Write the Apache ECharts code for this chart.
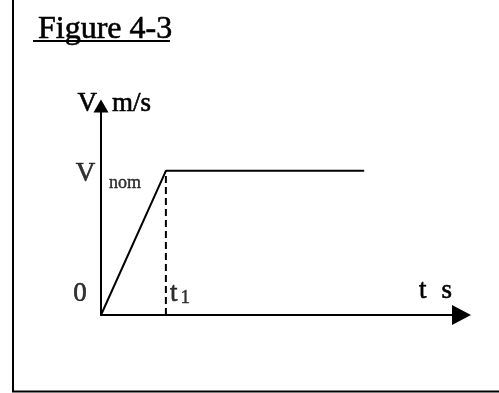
<!DOCTYPE html>
<html>
<head>
<meta charset="utf-8">
<script src="https://cdn.jsdelivr.net/npm/echarts@6/dist/echarts.min.js"></script>
<style>
  html, body { margin: 0; padding: 0; background: #fff; }
  #chart { width: 499px; height: 393px; }
</style>
</head>
<body>
<div id="chart"></div>
<script>
// speed profile: ramp up to V nom at t1, then hold
var timeS = [0, 1.8, 7.3];
var speed = [0, 6.9, 6.9];
var tMax = 10;
var vMax = 10;
var t1 = timeS[1];
var vNom = speed[1];

var serif = 'Liberation Serif';
var ink = '#000';
// scanned print looks a bit heavy, thicken glyphs slightly
var heavy = {textBorderColor: ink, textBorderWidth: 0.6};

var profile = [];
for (var i = 0; i < timeS.length; i++) {
    profile.push([timeS[i], speed[i]]);
}

function big(extra) {
    return Object.assign({fontFamily: serif, fontSize: 27, color: ink}, heavy, extra || {});
}

var myChart = echarts.init(document.getElementById('chart'));
myChart.setOption({
    animation: false,
    backgroundColor: '#fff',
    title: {
        text: 'Figure 4-3',
        left: 33,
        top: 9,
        textStyle: {
            fontFamily: serif,
            fontSize: 32,
            fontWeight: 'normal',
            color: ink,
            textBorderColor: ink,
            textBorderWidth: 0.6
        }
    },
    graphic: [
        // underline of the title
        {type: 'line', shape: {x1: 33, y1: 41, x2: 170, y2: 41}, style: {stroke: ink, lineWidth: 2}},
        // frame: left and bottom edges
        {type: 'line', shape: {x1: 13, y1: 0, x2: 13, y2: 392}, style: {stroke: ink, lineWidth: 2}},
        {type: 'line', shape: {x1: 12, y1: 391.5, x2: 499, y2: 391.5}, style: {stroke: ink, lineWidth: 2}}
    ],
    grid: {
        left: 101,
        right: 37.5,
        top: 106,
        bottom: 78
    },
    xAxis: {
        type: 'value',
        min: 0,
        max: tMax,
        name: '{a|t}{g|}{a|s}',
        nameLocation: 'end',
        nameGap: -9.5,
        nameTextStyle: {
            align: 'right',
            verticalAlign: 'middle',
            padding: [0, 0, 48, 0],
            rich: {
                a: big(),
                g: {width: 15}
            }
        },
        axisLine: {
            show: true,
            onZero: false,
            symbol: ['none', 'triangle'],
            symbolSize: [20, 19],
            lineStyle: {color: ink, width: 2}
        },
        axisTick: {show: false},
        axisLabel: {show: false},
        splitLine: {show: false}
    },
    yAxis: {
        type: 'value',
        min: 0,
        max: vMax,
        name: '{a|V}{g|}{a|m/s}',
        nameLocation: 'end',
        nameGap: 2,
        nameTextStyle: {
            align: 'center',
            verticalAlign: 'middle',
            padding: [0, 0, 0, 26.5],
            rich: {
                a: big(),
                g: {width: 15}
            }
        },
        axisLine: {
            show: true,
            onZero: false,
            symbol: ['none', 'triangle'],
            symbolSize: [15, 13],
            lineStyle: {color: ink, width: 2}
        },
        axisTick: {show: false},
        axisLabel: {show: false},
        splitLine: {show: false}
    },
    series: [{
        name: 'V',
        type: 'line',
        data: profile,
        symbol: 'none',
        z: 4,
        lineStyle: {color: ink, width: 2}
    }, {
        name: 't1',
        type: 'line',
        data: [[t1, 0], [t1, vNom]],
        symbol: 'none',
        z: 3,
        lineStyle: {color: ink, width: 2, type: [7, 4]}
    }, {
        name: 'labels',
        type: 'scatter',
        symbolSize: 1,
        itemStyle: {color: 'rgba(0,0,0,0)'},
        silent: true,
        label: big({show: true, position: 'inside'}),
        data: [{
            value: [0, 0],
            label: {formatter: '0', offset: [-21, -21]}
        }, {
            value: [t1, 0],
            label: {
                formatter: '{a|t}{s|1}',
                offset: [14, -21],
                rich: {
                    a: big(),
                    s: big({fontSize: 19, verticalAlign: 'bottom', padding: [0, 0, 0, 3], textBorderWidth: 0.4})
                }
            }
        }, {
            value: [0, vNom],
            label: {formatter: 'V', offset: [-15.5, 3.5]}
        }, {
            value: [0, vNom],
            label: {formatter: 'nom', fontSize: 18, textBorderWidth: 0.4, offset: [24, 12]}
        }]
    }]
});
</script>
</body>
</html>
